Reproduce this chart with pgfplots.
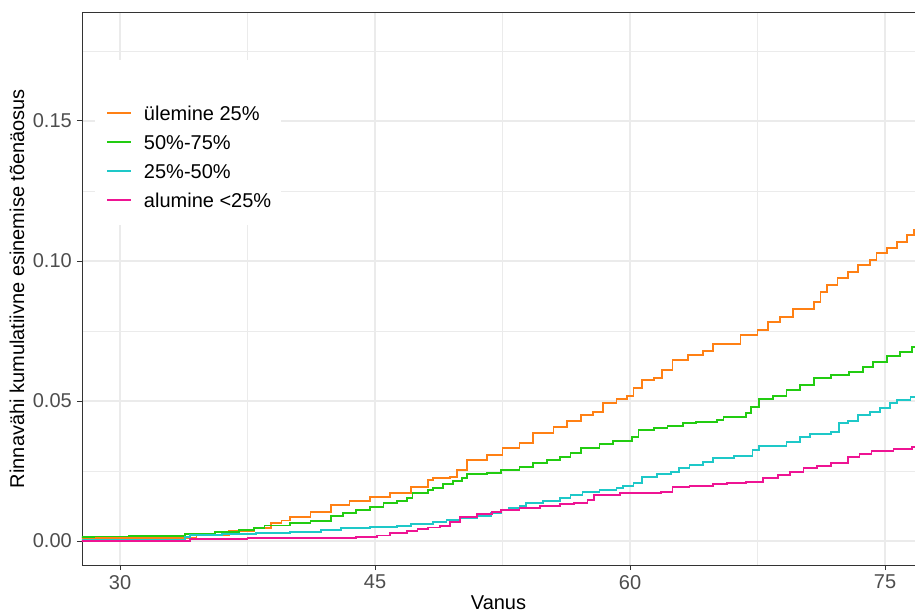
\documentclass[border=0pt]{standalone}
\usepackage{pgfplots}
\pgfplotsset{compat=1.18}
\usepackage{fontspec}
\setmainfont{Liberation Sans}
\definecolor{cOr}{RGB}{255,128,20}
\definecolor{cGr}{RGB}{34,204,17}
\definecolor{cCy}{RGB}{30,200,200}
\definecolor{cPk}{RGB}{238,20,147}
\definecolor{gridc}{HTML}{EBEBEB}
\definecolor{axc}{HTML}{333333}
\definecolor{labc}{HTML}{4D4D4D}
\newcommand\ff{\fontsize{20pt}{23pt}\selectfont}
\begin{document}
\begin{tikzpicture}
\begin{axis}[
  at={(0,0)}, anchor=south west,
  scale only axis, width=833pt, height=553pt,
  xmin=27.76, xmax=76.76, ymin=-0.00857, ymax=0.1889,
  axis x line*=box, axis y line*=left,
  xtick pos=left, ytick pos=left,
  xtick={30,45,60,75}, ytick={0,0.05,0.1,0.15},
  minor xtick={37.5,52.5,67.5}, minor ytick={0.025,0.075,0.125,0.175},
  grid=both,
  major grid style={color=gridc, line width=1.6pt},
  minor grid style={color=gridc, line width=0.8pt},
  tick align=outside, major tick length=5pt, minor tick length=0pt,
  every tick/.style={color=axc, line width=0.9pt},
  axis line style={color=axc, line width=0.9pt},
  /pgf/number format/assume math mode=true,
  yticklabel style={/pgf/number format/fixed, /pgf/number format/fixed zerofill, /pgf/number format/precision=2},
  yticklabel style={font=\ff, color=labc, inner sep=0pt, anchor=east, xshift=-5pt},
  xticklabel style={font=\ff, color=labc, inner sep=0pt, anchor=north, yshift=-5pt},
  xlabel={Vanus},
  ylabel={Rinnavähi kumulatiivne esinemise tõenäosus},
  xlabel style={font=\ff, at={(axis description cs:0.5,-0.0810)}, anchor=base, inner sep=0pt},
  ylabel style={font=\ff, at={(axis description cs:-0.0780,0.5)}, anchor=center},
  legend cell align=left,
  legend style={at={(rel axis cs:0.0288,0.8298)}, anchor=north west, draw=none, fill=none,
    inner sep=0pt, row sep=10pt, column sep=12pt,
    nodes={inner sep=0pt, text height=14pt, text depth=5pt, anchor=base west, font=\ff}},
  legend image code/.code={\draw[#1] (0pt,7pt) -- (24pt,7pt);},
  every axis plot/.append style={line width=1.8pt, const plot},
]
\addplot[cOr] coordinates {
(27.7,0.0010) (31.0,0.0012) (34.5,0.0021) (36.4,0.0036) (37.9,0.0046) (38.9,0.0064)
(39.5,0.0073) (40.0,0.0086) (41.2,0.0104) (42.4,0.0129) (43.5,0.0143) (44.7,0.0157)
(45.9,0.0171) (47.1,0.0193) (48.1,0.0218) (48.4,0.0225) (49.4,0.0229) (49.8,0.0254)
(50.4,0.0290) (51.6,0.0307) (52.5,0.0332) (53.5,0.0350) (54.3,0.0386) (55.5,0.0407)
(56.3,0.0429) (57.1,0.0450) (57.8,0.0460) (58.4,0.0493) (59.2,0.0507) (59.8,0.0518)
(60.2,0.0546) (60.7,0.0575) (61.4,0.0582) (61.9,0.0610) (62.5,0.0646) (63.4,0.0664)
(64.3,0.0679) (64.9,0.0704) (66.5,0.0736) (67.5,0.0754) (68.1,0.0782) (68.8,0.0800)
(69.6,0.0829) (70.8,0.0854) (71.2,0.0889) (71.6,0.0914) (72.2,0.0939) (72.8,0.0961)
(73.4,0.0986) (74.1,0.1004) (74.5,0.1029) (75.1,0.1046) (75.7,0.1068) (76.3,0.1093)
(76.7,0.1110) (77.0,0.1110)};
\addlegendentry{ülemine 25\%}
\addplot[cGr] coordinates {
(27.7,0.0014) (28.5,0.0016) (30.5,0.0019) (33.8,0.0025) (35.6,0.0032) (37.0,0.0039)
(37.9,0.0046) (38.5,0.0055) (40.0,0.0064) (41.2,0.0071) (42.4,0.0090) (43.1,0.0100)
(43.9,0.0111) (44.7,0.0121) (45.5,0.0136) (46.3,0.0143) (46.9,0.0154) (47.2,0.0171)
(48.1,0.0182) (48.4,0.0189) (49.0,0.0204) (49.6,0.0214) (50.1,0.0225) (50.4,0.0239)
(51.6,0.0243) (52.4,0.0254) (53.5,0.0264) (54.3,0.0279) (55.1,0.0290) (55.9,0.0300)
(56.5,0.0314) (57.1,0.0332) (58.2,0.0346) (59.0,0.0357) (60.1,0.0371) (60.5,0.0396)
(61.4,0.0404) (62.2,0.0410) (63.1,0.0421) (63.9,0.0425) (65.1,0.0432) (65.5,0.0443)
(66.8,0.0457) (67.1,0.0479) (67.6,0.0507) (68.4,0.0518) (69.2,0.0539) (70.0,0.0557)
(70.8,0.0582) (71.8,0.0593) (72.9,0.0604) (73.7,0.0621) (74.3,0.0639) (75.1,0.0661)
(75.9,0.0675) (76.6,0.0693) (77.0,0.0693)};
\addlegendentry{50\%-75\%}
\addplot[cCy] coordinates {
(27.7,0.0005) (33.8,0.0014) (34.1,0.0021) (36.0,0.0025) (38.0,0.0029) (40.0,0.0032)
(41.8,0.0039) (43.0,0.0046) (44.7,0.0050) (46.3,0.0054) (47.1,0.0061) (48.4,0.0068)
(49.2,0.0075) (50.0,0.0082) (51.0,0.0089) (51.8,0.0100) (52.4,0.0111) (52.9,0.0118)
(53.5,0.0125) (53.9,0.0136) (54.9,0.0143) (55.9,0.0154) (56.5,0.0164) (57.2,0.0175)
(58.2,0.0182) (59.2,0.0189) (59.6,0.0196) (60.2,0.0207) (60.7,0.0229) (61.6,0.0239)
(62.4,0.0246) (62.9,0.0261) (63.5,0.0271) (64.3,0.0282) (64.9,0.0296) (66.1,0.0303)
(67.2,0.0325) (67.6,0.0339) (69.2,0.0354) (70.0,0.0371) (70.6,0.0382) (71.8,0.0389)
(72.3,0.0421) (72.8,0.0429) (73.4,0.0450) (74.1,0.0461) (74.7,0.0475) (75.3,0.0493)
(75.7,0.0504) (76.5,0.0514) (77.0,0.0514)};
\addlegendentry{25\%-50\%}
\addplot[cPk] coordinates {
(27.7,0.0000) (34.1,0.0007) (37.5,0.0010) (43.9,0.0014) (45.1,0.0020) (45.9,0.0029)
(46.9,0.0036) (47.5,0.0043) (48.1,0.0048) (48.8,0.0054) (49.4,0.0068) (50.0,0.0086)
(51.0,0.0096) (51.9,0.0104) (52.4,0.0111) (53.5,0.0118) (54.7,0.0125) (55.9,0.0132)
(56.7,0.0136) (57.5,0.0146) (57.9,0.0164) (59.4,0.0171) (61.8,0.0175) (62.5,0.0193)
(63.5,0.0196) (64.9,0.0204) (65.7,0.0207) (66.8,0.0211) (67.8,0.0225) (68.7,0.0236)
(69.4,0.0246) (70.2,0.0261) (71.0,0.0268) (71.8,0.0279) (72.8,0.0300) (73.5,0.0311)
(74.2,0.0321) (75.5,0.0329) (76.6,0.0336) (77.0,0.0336)};
\addlegendentry{alumine <25\%}
\fill[white] (rel axis cs:0.0156,0.6148) rectangle (rel axis cs:0.2389,0.9132);
\end{axis}
\pgfresetboundingbox
\path[use as bounding box] (-82pt,-48pt) rectangle (833pt,565pt);
\end{tikzpicture}
\end{document}
